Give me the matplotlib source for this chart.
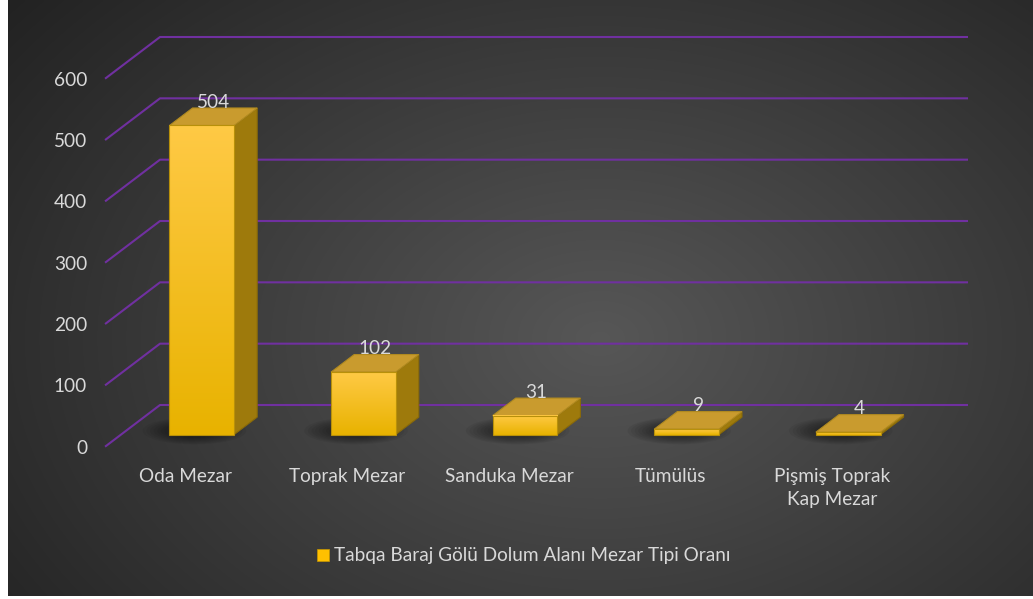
import numpy as np
import matplotlib
matplotlib.use('Agg')
import matplotlib.pyplot as plt
from matplotlib.patches import Polygon, Ellipse, Patch

plt.rcParams['font.family'] = ['Lato', 'DejaVu Sans']

# data
categories = ['Oda Mezar', 'Toprak Mezar', 'Sanduka Mezar', 'Tümülüs', 'Pişmiş Toprak\nKap Mezar']
values = [504, 102, 31, 9, 4]
y_ticks = [0, 100, 200, 300, 400, 500, 600]
series_name = 'Tabqa Baraj Gölü Dolum Alanı Mezar Tipi Oranı'

txt_col = '#D9D9D9'
grid_col = '#7030A0'
fs = 13.7

W, H = 1033, 599
fig = plt.figure(figsize=(W / 100, H / 100), dpi=100)
fig.patch.set_facecolor('white')

# radial dark background
bg = fig.add_axes([8 / W, 3 / H, 1 - 8 / W, 1 - 3 / H])
bg.axis('off')
yy, xx = np.mgrid[0:300, 0:520]
r = np.sqrt(((xx - 300) / 330.0) ** 2 + ((yy - 170) / 230.0) ** 2)
r = np.clip(r, 0, 1.25) / 1.25
c_in, c_out = np.array([0.34, 0.34, 0.34]), np.array([0.12, 0.12, 0.12])
img = c_in[None, None, :] * (1 - r[..., None]) + c_out[None, None, :] * r[..., None]
bg.imshow(img, aspect='auto', extent=[0, 1, 0, 1], interpolation='bicubic')

# main "3d" axes: back wall in data units
ax = fig.add_axes([160 / W, 1 - 405 / H, 808 / W, 368 / H])
ax.set_xlim(-0.5, 4.5)
ax.set_ylim(0, 600)
ax.axis('off')
ax.set_facecolor('none')

DX, DY = -0.34, -68.0          # depth vector back -> front
f0, f1 = 0.29, 0.71            # bar depth range
bw = 0.2

# gridlines
for v in y_ticks:
    ax.plot([-0.5 + DX, -0.5, 4.5], [v + DY, v, v], color=grid_col, lw=1.5,
            clip_on=False, zorder=1, solid_capstyle='butt')
    ax.annotate(str(v), (-0.5 + DX, v + DY), xytext=(-13, -1), textcoords='offset points',
                ha='right', va='center', color=txt_col, fontsize=fs, annotation_clip=False)

# bars
for i, v in enumerate(values):
    xl, xr = i - bw, i + bw
    # shadow on floor
    cx, cy = i + DX * 0.55 - 0.1, DY * 0.62
    for k in range(10):
        s = 1 - k * 0.07
        ax.add_patch(Ellipse((cx, cy), 0.64 * s, 44 * s, color='black', alpha=0.055,
                             lw=0, zorder=2, clip_on=False))
    fl, fr = xl + DX * f1, xr + DX * f1
    bl_, br_ = xl + DX * f0, xr + DX * f0
    yf0, yf1 = DY * f1, v + DY * f1
    yb0, yb1 = DY * f0, v + DY * f0
    # side face
    side = [(fr, yf0), (br_, yb0), (br_, yb1), (fr, yf1)]
    ax.add_patch(Polygon(side, closed=True, fc='#9E7A0C', ec='#8A6A08', lw=0.8,
                         zorder=3, clip_on=False))
    # top face
    top = [(fl, yf1), (fr, yf1), (br_, yb1), (bl_, yb1)]
    ax.add_patch(Polygon(top, closed=True, fc='#C99B2E', ec='#B08A20', lw=0.8,
                         zorder=4, clip_on=False))
    # front face with gradient
    front = Polygon([(fl, yf0), (fr, yf0), (fr, yf1), (fl, yf1)], closed=True,
                    fc='none', ec='#B8900A', lw=0.8, zorder=6, clip_on=False)
    ax.add_patch(front)
    if v > 0:
        g = np.linspace(0, 1, 64)[:, None]
        top_c, bot_c = np.array([1.0, 0.79, 0.27]), np.array([0.91, 0.70, 0.0])
        grad = top_c[None, None, :] * (1 - g[..., None]) + bot_c[None, None, :] * g[..., None]
        grad = np.repeat(grad, 2, axis=1)
        im = ax.imshow(grad, extent=[fl, fr, yf0, yf1], aspect='auto', zorder=5,
                       interpolation='bilinear', clip_on=False)
        clipper = Polygon([(fl, yf0), (fr, yf0), (fr, yf1), (fl, yf1)], closed=True,
                          transform=ax.transData, fc='none', ec='none')
        im.set_clip_path(clipper)
    # value label
    ax.annotate(str(v), (i + DX * 0.5, yb1), xytext=(0, -2), textcoords='offset points',
                ha='center', va='bottom', color=txt_col, fontsize=fs,
                annotation_clip=False, zorder=7)
    # category label
    ax.annotate(categories[i], (i + DX, DY), xytext=(0, -15), textcoords='offset points',
                ha='center', va='top', color=txt_col, fontsize=fs, linespacing=1.45,
                annotation_clip=False)

ax.set_xlim(-0.5, 4.5)
ax.set_ylim(0, 600)

fig.legend(handles=[Patch(facecolor='#FFC000', edgecolor='#C89800', lw=0.5)],
           labels=[series_name], loc='center', bbox_to_anchor=(524 / W, 1 - 556 / H),
           frameon=False, fontsize=fs, labelcolor=txt_col, handlelength=0.6,
           handleheight=0.6, handletextpad=0.3)

fig.savefig('out.png', dpi=100, facecolor=fig.get_facecolor())
